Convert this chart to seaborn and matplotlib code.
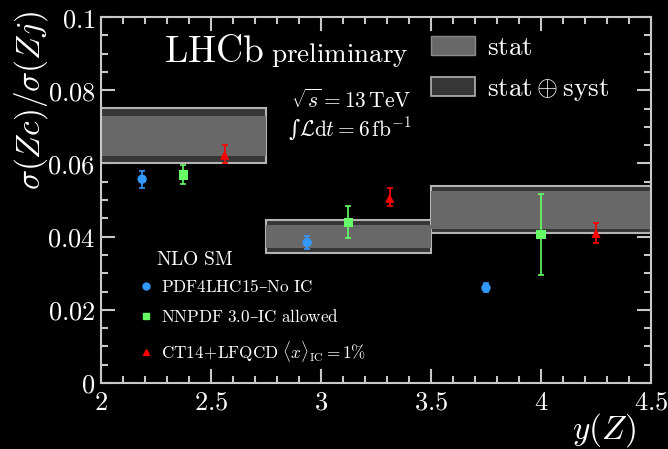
import matplotlib
matplotlib.use("Agg")
import matplotlib.pyplot as plt
import seaborn as sns
import pandas as pd
import numpy as np
from matplotlib.patches import Patch
from matplotlib.lines import Line2D
from matplotlib.ticker import MultipleLocator, FuncFormatter

# ---- data ----
bin_lo = [2.0, 2.75, 3.5]
bin_hi = [2.75, 3.5, 4.5]
meas_central = [0.0675, 0.0400, 0.0473]
stat_lo = [0.0620, 0.0369, 0.0421]
stat_hi = [0.0730, 0.0432, 0.0525]
tot_lo = [0.0601, 0.0355, 0.0410]
tot_hi = [0.0751, 0.0445, 0.0538]

models = ["PDF4LHC15\u2013No IC", "NNPDF 3.0\u2013IC allowed", "CT14+LFQCD"]
model_offsets = [-0.25, 0.0, 0.25]   # fraction of bin width
pdf4lhc_val = [0.0557, 0.0384, 0.0260]
pdf4lhc_up = [0.0579, 0.0402, 0.0272]
pdf4lhc_dn = [0.0533, 0.0366, 0.0248]
nnpdf_val = [0.0568, 0.0439, 0.0406]
nnpdf_up = [0.0595, 0.0484, 0.0516]
nnpdf_dn = [0.0544, 0.0395, 0.0294]
ct14_val = [0.0623, 0.0505, 0.0409]
ct14_up = [0.0651, 0.0532, 0.0438]
ct14_dn = [0.0600, 0.0483, 0.0383]

xticks = [2, 2.5, 3, 3.5, 4, 4.5]
yticks = [0, 0.02, 0.04, 0.06, 0.08, 0.1]

# ---- style ----
sns.set_style("ticks", rc={
    "axes.facecolor": "black", "figure.facecolor": "black",
    "axes.edgecolor": "#c8c8c8", "xtick.color": "#c8c8c8", "ytick.color": "#c8c8c8",
    "text.color": "white", "axes.labelcolor": "white",
})
plt.rcParams["mathtext.fontset"] = "cm"
plt.rcParams["font.family"] = ["DejaVu Serif"]

fig = plt.figure(figsize=(6.68, 4.49), dpi=100)
ax = fig.add_axes([0.151, 0.147, 0.8236, 0.815])

# measurement boxes
widths = [h - l for l, h in zip(bin_lo, bin_hi)]
ax.bar(bin_lo, [h - l for l, h in zip(tot_lo, tot_hi)], bottom=tot_lo, width=widths,
       align="edge", color="#363636", edgecolor="#b4b4b4", linewidth=1.5, zorder=1)
ax.bar(bin_lo, [h - l for l, h in zip(stat_lo, stat_hi)], bottom=stat_lo, width=widths,
       align="edge", color="#686868", edgecolor="none", linewidth=0, zorder=2)

# model points
rows = []
series = [(pdf4lhc_val, pdf4lhc_up, pdf4lhc_dn), (nnpdf_val, nnpdf_up, nnpdf_dn),
          (ct14_val, ct14_up, ct14_dn)]
for m, off, (v, u, d) in zip(models, model_offsets, series):
    for i in range(3):
        c = 0.5 * (bin_lo[i] + bin_hi[i])
        rows.append(dict(model=m, x=c + off * widths[i], y=v[i], up=u[i], dn=d[i]))
df = pd.DataFrame(rows)

colors = {models[0]: "#3399ff", models[1]: "#66ff66", models[2]: "#ff0000"}
markers = {models[0]: "o", models[1]: "s", models[2]: "^"}
for m in models:
    sub = df[df.model == m]
    ax.errorbar(sub.x, sub.y, yerr=[sub.y - sub.dn, sub.up - sub.y], fmt="none",
                ecolor=colors[m], elinewidth=1.2, capsize=2.5, capthick=1.2, zorder=3)
sns.scatterplot(data=df, x="x", y="y", hue="model", style="model", palette=colors,
                markers=markers, s=45, edgecolor="none", legend=False, ax=ax, zorder=4)

ax.set_xlim(2, 4.5)
ax.set_ylim(0, 0.1)
ax.set_xticks(xticks)
ax.set_yticks(yticks)
fmt = FuncFormatter(lambda v, p: "$%g$" % v)
ax.xaxis.set_major_formatter(fmt)
ax.yaxis.set_major_formatter(fmt)
ax.xaxis.set_minor_locator(MultipleLocator(0.1))
ax.yaxis.set_minor_locator(MultipleLocator(0.005))
ax.tick_params(which="both", direction="in", top=True, right=True, width=1.5, labelsize=19,
               labelcolor="white")
ax.tick_params(axis="x", pad=5)
ax.tick_params(axis="y", pad=4)
ax.tick_params(which="major", length=10)
ax.tick_params(which="minor", length=5)
for s in ax.spines.values():
    s.set_linewidth(1.5)
    s.set_color("#c8c8c8")
ax.set_xlabel("")
ax.set_ylabel("")

fig.text(0.952, 0.0, r"$y(Z)$", ha="right", va="bottom", fontsize=24, color="white")
fig.text(0.018, 0.975, r"$\sigma(Zc)/\sigma(Zj)$", ha="left", va="top", rotation=90,
         fontsize=24, color="white")

ax.text(0.115, 0.905, r"$\mathrm{LHCb}$", transform=ax.transAxes, fontsize=27, ha="left",
        va="center", color="white")
ax.text(0.31, 0.895, r"$\mathrm{preliminary}$", transform=ax.transAxes, fontsize=19.5,
        ha="left", va="center", color="white")
ax.text(0.345, 0.77, r"$\sqrt{s} = 13\,\mathrm{TeV}$", transform=ax.transAxes, fontsize=15.5,
        ha="left", va="center", color="white")
ax.text(0.34, 0.695, "\u222b" + r"$\mathcal{L}\mathrm{d}t = 6\,\mathrm{fb}^{-1}$",
        transform=ax.transAxes, fontsize=15.5, ha="left", va="center", color="white")

# top-right legend
h1 = [Patch(facecolor="#686868", edgecolor="#8a8a8a", linewidth=1),
      Patch(facecolor="#363636", edgecolor="#b4b4b4", linewidth=1.2)]
leg1 = ax.legend(h1, [r"$\mathrm{stat}$", r"$\mathrm{stat}\oplus\mathrm{syst}$"],
                 loc="upper left", bbox_to_anchor=(0.555, 1.02), frameon=False,
                 fontsize=19.5, handlelength=1.65, handleheight=0.7, labelspacing=0.5,
                 handletextpad=0.45, labelcolor="white")
ax.add_artist(leg1)

# model legend
ax.text(0.10, 0.335, r"$\mathrm{NLO\ SM}$", transform=ax.transAxes, fontsize=14,
        ha="left", va="center", color="white")
h2 = [Line2D([], [], ls="none", marker=markers[m], color=colors[m], markersize=5)
      for m in models]
lab2 = [r"$\mathrm{PDF4LHC15}$" + "\u2013" + r"$\mathrm{No\ IC}$",
        r"$\mathrm{NNPDF\ 3.0}$" + "\u2013" + r"$\mathrm{IC\ allowed}$",
        r"$\mathrm{CT14\!+\!LFQCD}\ \langle x\rangle_{\mathrm{IC}} = 1\%$"]
leg2 = ax.legend(h2, lab2, loc="lower left", bbox_to_anchor=(0.045, 0.01), frameon=False,
                 fontsize=12.3, handlelength=0.6, handletextpad=0.55, labelspacing=0.75,
                 labelcolor="white")

fig.savefig("out.png", dpi=100, facecolor="black")
